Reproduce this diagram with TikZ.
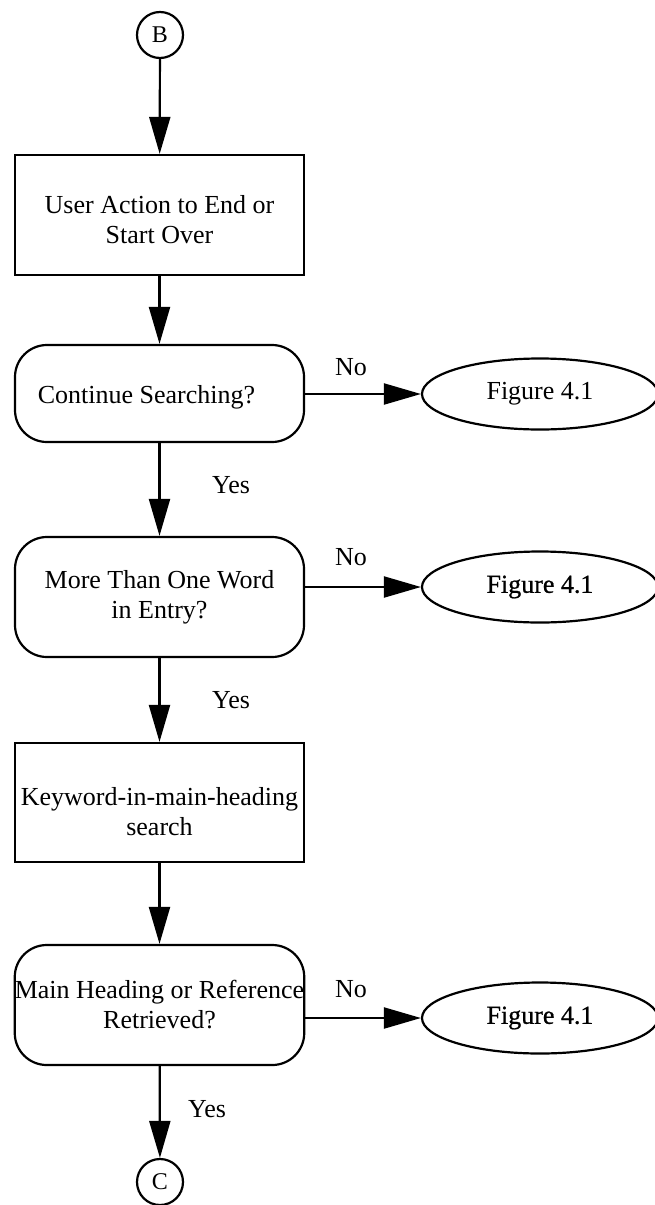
\documentclass[tikz,border=0pt]{standalone}
\usepackage{fontspec}
\setmainfont{Liberation Serif}
\newfontfamily\heavyserif[FakeBold=0.8]{Liberation Serif}
\usetikzlibrary{shapes.geometric,arrows.meta}
\begin{document}
\begin{tikzpicture}[x=1pt,y=-1pt,
  every node/.style={font=\fontsize{26}{30}\selectfont},
  conn/.style={draw, circle, line width=2.2pt, minimum size=46pt, inner sep=0pt, font=\fontsize{24}{28}\selectfont},
  procbox/.style={draw, rectangle, line width=2.2pt, minimum width=289pt, align=center, inner sep=0pt},
  decbox/.style={draw, rectangle, rounded corners=32pt, line width=2.2pt, minimum width=289pt, align=center, inner sep=0pt},
  figell/.style={draw, ellipse, line width=2.2pt, minimum width=236pt, minimum height=71pt, inner sep=0pt},
  heavy/.style={font=\fontsize{26}{30}\heavyserif},
  flow/.style={line width=2.2pt, -{Triangle[length=37pt,width=21pt]}},
  lbl/.style={inner sep=0pt},
  inner/.style={inner sep=0pt, align=center}
]
\useasboundingbox (0,0) rectangle (654,1205);

\node[conn] (B) at (160,35) {B};
\node[procbox, minimum height=120pt,
  label={[inner, yshift=-5pt]center:User Action to End or\\Start Over}] (act) at (159.5,215) {};
\node[decbox, minimum height=97pt,
  label={[inner, yshift=-4pt, xshift=-13pt]center:Continue Searching?}] (cont) at (159.5,393.5) {};
\node[figell] (f1) at (540,394) {Figure 4.1};
\node[decbox, minimum height=120pt] (more) at (159.5,597) {More Than One Word\\in Entry?};
\node[figell, heavy] (f2) at (540,587) {Figure 4.1};
\node[procbox, minimum height=119pt,
  label={[inner, yshift=-9pt]center:Keyword-in-main-heading\\search}] (kw) at (159.5,802.5) {};
\node[decbox, minimum height=120pt] (main) at (159.5,1005) {Main Heading or Reference\\Retrieved?};
\node[figell, heavy] (f3) at (540,1018) {Figure 4.1};
\node[conn] (C) at (160,1182) {C};

\draw[flow] (B) -- (act);
\draw[flow] (act) -- (cont);
\draw[flow] (cont.east |- f1.west) -- (f1.west);
\draw[flow] (cont) -- (more);
\draw[flow] (more.east |- f2.west) -- (f2.west);
\draw[flow] (more) -- (kw);
\draw[flow] (kw) -- (main);
\draw[flow] (main.east |- f3.west) -- (f3.west);
\draw[flow] (main) -- (C);

\node[lbl] (no1) at (351,367) {No};
\node[lbl] (no2) at (351,557) {No};
\node[lbl] (no3) at (351,989) {No};
\node[lbl] (yes1) at (231,485) {Yes};
\node[lbl] (yes2) at (231,700) {Yes};
\node[lbl] (yes3) at (207,1109) {Yes};
\end{tikzpicture}
\end{document}
